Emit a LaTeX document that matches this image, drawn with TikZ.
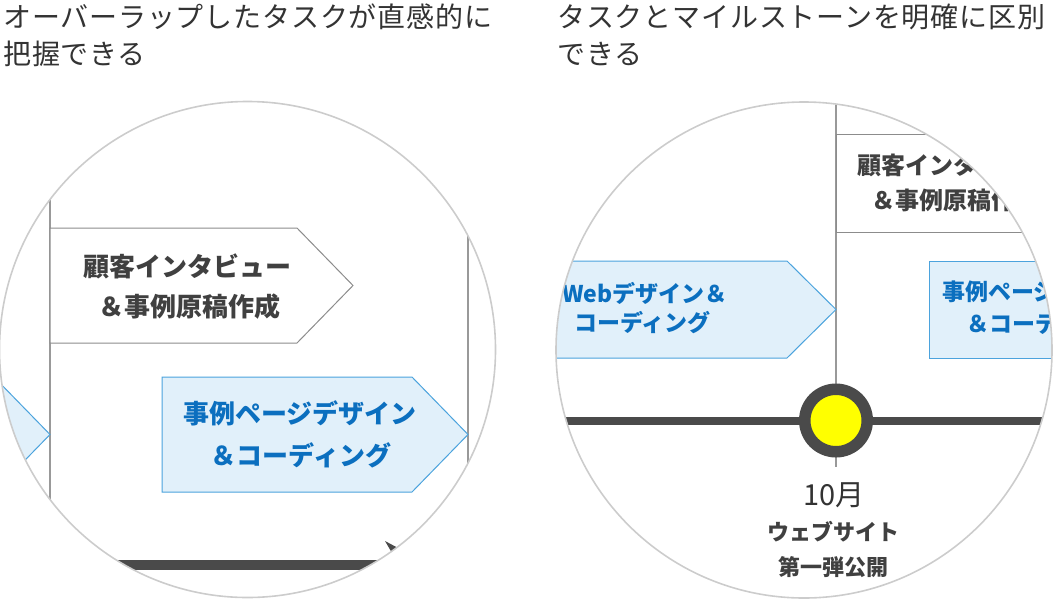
\documentclass[tikz,border=0pt]{standalone}
\usepackage{fontspec}
\setmainfont{Noto Sans CJK JP}
\newfontfamily\titlefont[LetterSpace=3]{Noto Sans CJK JP}
\definecolor{txt}{HTML}{333333}
\definecolor{ring}{HTML}{CCCCCC}
\definecolor{vline}{HTML}{999999}
\definecolor{boxline}{HTML}{8C8C8C}
\definecolor{bluefill}{HTML}{E1F0FA}
\definecolor{blueline}{HTML}{4BA3DD}
\definecolor{bluetxt}{HTML}{0B6FBF}
\definecolor{bar}{HTML}{4A4A4A}
\definecolor{yel}{HTML}{FFFF00}
\definecolor{boxtxt}{HTML}{404040}
\begin{document}
\begin{tikzpicture}[x=1pt,y=-1pt,
  ttl/.style={anchor=west,inner sep=0,text=txt,font=\titlefont\fontsize{28}{30}\selectfont},
  lens/.style={draw=ring,line width=1.6pt},
  vrule/.style={draw=vline,line width=1.2pt},
  graytask/.style={draw=boxline,fill=white,line width=1pt},
  bluetask/.style={draw=blueline,fill=bluefill,line width=1pt},
  graytxt/.style={inner sep=0,text=boxtxt,font=\bfseries\fontsize{26}{30}\selectfont},
  bluetxtL/.style={inner sep=0,text=bluetxt,font=\bfseries\fontsize{26}{30}\selectfont},
  graytxtS/.style={inner sep=0,anchor=west,text=boxtxt,font=\bfseries\fontsize{24}{28}\selectfont},
  bluetxtS/.style={inner sep=0,anchor=west,text=bluetxt,font=\bfseries\fontsize{23}{27}\selectfont},
  timeline/.style={draw=bar,line width=10pt},
  mslabel/.style={inner sep=0,text=boxtxt,font=\bfseries\fontsize{22}{26}\selectfont},
]
\useasboundingbox (0,0) rectangle (1056,600);

% titles
\node[ttl] (t1a) at (3,17) {オーバーラップしたタスクが直感的に};
\node[ttl] (t1b) at (3,54) {把握できる};
\node[ttl] (t2a) at (557,17) {タスクとマイルストーンを明確に区別};
\node[ttl] (t2b) at (557,54) {できる};

% ---------- left lens ----------
\begin{scope}
\clip (247.5,349.5) circle (248pt);
\draw[vrule] (50,90) -- (50,610);
\draw[vrule] (468,90) -- (468,610);
\draw[bluetask] (-300,377) -- (-6,377) -- (50,434.5) -- (-6,492) -- (-300,492) -- cycle;
\draw[graytask] (50,228) -- (297,228) -- (353,285.5) -- (297,343) -- (50,343) -- cycle;
\draw[bluetask] (162,377) -- (412,377) -- (468,434.5) -- (412,492) -- (162,492) -- cycle;
\node[graytxt] (g1) at (187,266) {顧客インタビュー};
\node[graytxt] (g2) at (189,307) {＆事例原稿作成};
\node[bluetxtL] (b1) at (300,413) {事例ページデザイン};
\node[bluetxtL] (b2) at (301,455) {＆コーディング};
\coordinate (tlend) at (399,565);
\draw[timeline] (-20,565) -- (tlend);
\fill[bar] (385,541) -- (430,565) -- (385,589) -- (tlend) -- cycle;
\end{scope}
\draw[lens] (247.5,349.5) circle (248pt);

% ---------- right lens ----------
\begin{scope}
\clip (804,350) circle (248pt);
\draw[vrule] (836,90) -- (836,467);
\draw[graytask] (836,134) rectangle (1100,232);
\draw[bluetask] (400,261) -- (787,261) -- (836,309.5) -- (787,358) -- (400,358) -- cycle;
\draw[bluetask] (929,261) rectangle (1150,358);
\node[graytxtS] (rg1) at (857,165) {顧客インタビュー};
\node[graytxtS] (rg2) at (871,200) {＆事例原稿作成};
\node[bluetxtS] (rb1) at (562,293) {Webデザイン＆};
\node[bluetxtS] (rb2) at (574,323) {コーディング};
\node[bluetxtS] (rb3) at (942,292) {事例ページデザイン};
\node[bluetxtS] (rb4) at (966,324) {＆コーディング};
\draw[timeline,line width=8pt] (540,420.5) -- (1070,420.5);
\end{scope}
\node[circle,draw=bar,fill=yel,line width=11.5pt,inner sep=0,minimum size=62.5pt] (ms) at (836,420.5) {};
\node[inner sep=0,text=txt,font=\fontsize{29}{32}\selectfont] (m1) at (834,495) {10月};
\node[mslabel] (m2) at (833,532) {ウェブサイト};
\node[mslabel] (m3) at (833,567) {第一弾公開};
\draw[lens] (804,350) circle (248pt);
\end{tikzpicture}
\end{document}
